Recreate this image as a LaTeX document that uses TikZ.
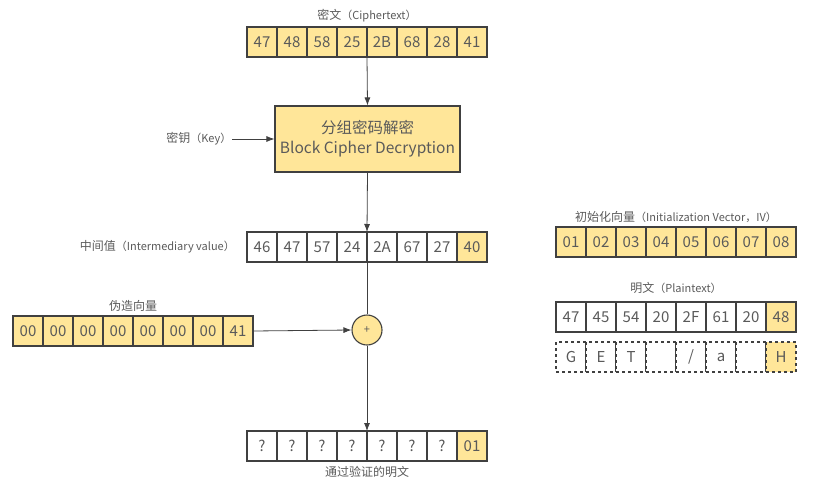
\documentclass[tikz,border=0pt]{standalone}
\usepackage{fontspec}
\setmainfont{Noto Sans CJK SC}
\usetikzlibrary{arrows.meta}
\usetikzlibrary{positioning}
\definecolor{cell_yellow}{HTML}{FFE699}
\definecolor{line_gray}{HTML}{404040}
\definecolor{text_gray}{HTML}{5A5A5A}
\newcommand{\latinpart}[1]{{\fontsize{11}{13}\selectfont #1}}
\tikzstyle{white_cell} = [
    rectangle,
    draw=line_gray,
    fill=white,
    line width=1.1pt,
    text=text_gray,
    font=\fontsize{15}{15}\selectfont,
    minimum width=30pt,
    minimum height=30pt,
    inner sep=0pt, % cells touch each other
    outer sep=0pt
]
\tikzstyle{yellow_cell} = [
    white_cell,
    fill=cell_yellow
]
\tikzstyle{dash_cell} = [
    white_cell,
    dashed
]
\tikzstyle{label_text} = [
    text=text_gray,
    font=\fontsize{12}{14}\selectfont,
    inner sep=1pt
]
\tikzstyle{flow} = [
    draw=line_gray,
    line width=0.8pt,
    -{Latex[length=8pt,width=6pt]}
]

\begin{document}
\begin{tikzpicture}[x=1pt, y=-1pt]
\useasboundingbox (0,0) rectangle (830,490);

% ciphertext
\foreach \v [count=\i] in {47,48,58,25,2B,68,28,41}
    \node [yellow_cell] (c\i) at ({247+15+30*(\i-1)}, 42) {\v};
\node [label_text, above=4pt of c4.north east] (cipher) {密文\latinpart{（Ciphertext）}};

% decryption block
\node [
    rectangle, draw=line_gray, fill=cell_yellow, line width=1.1pt,
    text=text_gray, align=center,
    font=\fontsize{15.5}{20}\selectfont,
    minimum width=185pt, minimum height=66pt
] (dec) at (367.5, 139) {分组密码解密\\Block Cipher Decryption};
\node [label_text, left=42pt of dec] (key) {密钥\latinpart{（Key）}};

% intermediary value
\foreach \v [count=\i] in {46,47,57,24,2A,67,27}
    \node [white_cell] (m\i) at ({247+15+30*(\i-1)}, 247) {\v};
\node [yellow_cell] (m8) at (472, 247) {40};
\node [label_text, left=11pt of m1] (inter) {中间值\latinpart{（Intermediary value）}};

% forged vector
\foreach \v [count=\i] in {00,00,00,00,00,00,00,41}
    \node [yellow_cell] (f\i) at ({13+15+30*(\i-1)}, 331) {\v};
\node [label_text, above=3pt of f4.north east] (forged) {伪造向量};

% xor
\node [circle, draw=line_gray, fill=cell_yellow, line width=1.1pt,
    minimum size=30pt, inner sep=0pt, text=text_gray,
    font=\fontsize{11}{11}\selectfont] (xor) at (367, 330) {+};

% result
\foreach \v [count=\i] in {?,?,?,?,?,?,?}
    \node [white_cell] (r\i) at ({247+15+30*(\i-1)}, 446) {\v};
\node [yellow_cell] (r8) at (472, 446) {01};
\node [label_text, below=4pt of r4.south east] (passed) {通过验证的明文};

% initialization vector
\foreach \v [count=\i] in {01,02,03,04,05,06,07,08}
    \node [yellow_cell] (iv\i) at ({556+15+30*(\i-1)}, 242) {\v};
\node [label_text, above=3pt of iv4.north east] (ivlabel) {初始化向量\latinpart{（Initialization Vector，IV）}};

% plaintext
\foreach \v [count=\i] in {47,45,54,20,2F,61,20}
    \node [white_cell] (p\i) at ({556+15+30*(\i-1)}, 317) {\v};
\node [yellow_cell] (p8) at (781, 317) {48};
\node [label_text, above=7pt of p4.north east] (plain) {明文\latinpart{（Plaintext）}};

\foreach \v [count=\i] in {G,E,T,{},/,a,{}}
    \node [dash_cell] (g\i) at ({556+15+30*(\i-1)}, 357) {\v};
\node [dash_cell, fill=cell_yellow] (g8) at (781, 357) {H};

% connectors
\draw [flow] (c4.south east) -- (dec.north);
\draw [flow] (key) -- (dec.west);
\draw [flow] (dec.south) -- (m4.north east);
\draw [draw=line_gray, line width=0.8pt] (m4.south east) -- (xor.north);
\draw [flow] (f8.east) -- (xor.west);
\draw [flow] (xor.south) -- (r4.north east);
\end{tikzpicture}
\end{document}
